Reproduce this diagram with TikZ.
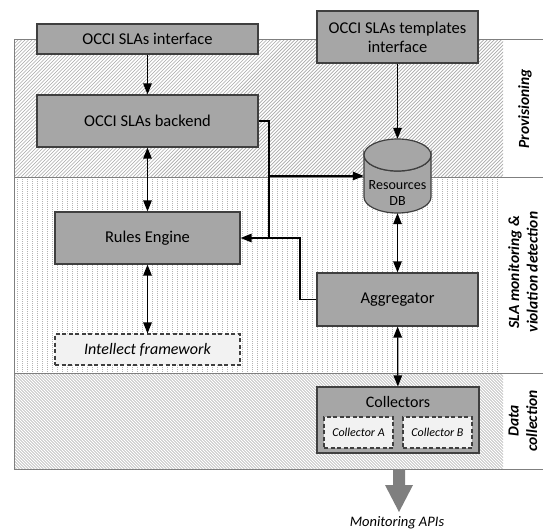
\documentclass[tikz,border=0pt]{standalone}
\usepackage{fontspec}
\setmainfont{Carlito}
\usetikzlibrary{arrows.meta,calc}
\definecolor{boxgray}{HTML}{A6A6A6}
\definecolor{edgegray}{HTML}{3F3F3F}
\definecolor{lightfill}{HTML}{F2F2F2}
\definecolor{hatchgray}{HTML}{A8A8A8}
\definecolor{dotgray}{HTML}{B4B4B4}
\definecolor{bandline}{HTML}{7F7F7F}
\begin{document}
\begin{tikzpicture}[x=1pt,y=-1pt,
 graybox/.style={draw=edgegray, fill=boxgray, line width=1.2pt, inner sep=0pt, font=\fontsize{16.5}{19}\selectfont},
 dashbox/.style={draw=edgegray, fill=lightfill, line width=1.1pt, dash pattern=on 4pt off 2.5pt, inner sep=0pt, font=\itshape\fontsize{16}{19}\selectfont},
 arr/.style={line width=1.3pt, -{Triangle[length=11pt,width=8.5pt]}},
 darr/.style={line width=1.3pt, {Triangle[length=11pt,width=8.5pt]}-{Triangle[length=11pt,width=8.5pt]}},
 bandlabel/.style={font=\bfseries\itshape\fontsize{15.5}{18.5}\selectfont, rotate=90, align=center}]
\useasboundingbox (0,0) rectangle (543,530);
% bands
\fill[white] (14,39.5) rectangle (503,469);
\begin{scope}
\clip (14,39.5) rectangle (503,177);
\foreach \x in {-140,-136.5,...,504} \draw[hatchgray, line width=0.7pt] (\x,177) -- (\x+137.5,39.5);
\end{scope}
\begin{scope}
\clip (14,373.5) rectangle (503,469);
\foreach \x in {-100,-97,...,504} \draw[hatchgray, line width=0.65pt] (\x,373.5) -- (\x+95.5,469);
\end{scope}
\foreach \x in {17,22,...,500} \draw[dotgray, line width=0.5pt, dash pattern=on 1pt off 1pt] (\x,177) -- (\x,373.5);
\draw[bandline, line width=1pt] (543,39.5) -- (14,39.5) -- (14,469) -- (543,469);
\draw[bandline, line width=1pt] (14,177) -- (543,177);
\draw[bandline, line width=1pt] (14,373.5) -- (543,373.5);
% labels
\node[bandlabel] (lprov) at (525,109) {Provisioning};
\node[bandlabel] (lmon) at (523,272) {SLA monitoring \&\\violation detection};
\node[bandlabel] (ldata) at (523,421) {Data\\collection};
% boxes
\node[graybox, minimum width=221pt, minimum height=30pt] (iface) at (147.5,39) {OCCI SLAs interface};
\node[graybox, minimum width=221pt, minimum height=52pt] (backend) at (147.5,121) {OCCI SLAs backend};
\node[graybox, minimum width=161pt, minimum height=52pt, align=center] (tmpl) at (397.5,37) {OCCI SLAs templates\\interface};
\path[draw=edgegray, fill=boxgray, line width=1.2pt] (364,155) -- (364,197) arc[start angle=180, end angle=0, x radius=33.5, y radius=16] -- (431,155) arc[start angle=0, end angle=180, x radius=33.5, y radius=16] -- cycle;
\draw[draw=edgegray, fill=boxgray, line width=1.2pt] (397.5,155) ellipse [x radius=33.5, y radius=16];
\node[minimum width=67pt, minimum height=74pt, inner sep=0pt] (db) at (397.5,176) {};
\node[font=\fontsize{14}{16}\selectfont, align=center, inner sep=0pt] (dbtext) at (397.5,193) {Resources\\DB};
\node[graybox, minimum width=185pt, minimum height=52pt] (rules) at (147.5,238) {Rules Engine};
\node[dashbox, minimum width=185pt, minimum height=31pt] (intel) at (147.5,349.5) {Intellect framework};
\node[graybox, minimum width=161pt, minimum height=53pt] (agg) at (397.5,299.5) {Aggregator};
\node[graybox, minimum width=162pt, minimum height=66pt] (coll) at (398,420) {};
\node[font=\fontsize{16}{19}\selectfont] (colltitle) at (398,402) {Collectors};
\node[dashbox, font=\itshape\fontsize{12}{14}\selectfont, minimum width=69pt, minimum height=31pt] (ca) at (358.5,432.5) {Collector A};
\node[dashbox, font=\itshape\fontsize{12}{14}\selectfont, minimum width=69pt, minimum height=31pt] (cb) at (437.5,432.5) {Collector B};
% monitoring arrow
\fill[bandline] (393,470) -- (405,470) -- (405,485) -- (413,485) -- (399,512) -- (385,485) -- (393,485) -- cycle;
\node[font=\itshape\fontsize{14.5}{17}\selectfont] (mon) at (397,523) {Monitoring APIs};
% connectors
\coordinate (bendA) at (269,0);
\coordinate (bendB) at (300,0);
\draw[arr] (iface) -- (backend);
\draw[darr] (backend) -- (rules);
\draw[darr] (rules) -- (intel);
\draw[arr] (tmpl) -- (db);
\draw[darr] (db) -- (agg);
\draw[darr] (agg) -- (coll);
\draw[line width=1.1pt] (backend.east) -| (bendA |- rules.east);
\draw[line width=1.1pt] (agg.west) -| (bendB |- rules.east) -- (bendA |- rules.east);
\draw[arr] (bendA |- rules.east) -- (rules.east);
\draw[arr] (bendA |- db.west) -- (db.west);
\end{tikzpicture}
\end{document}
